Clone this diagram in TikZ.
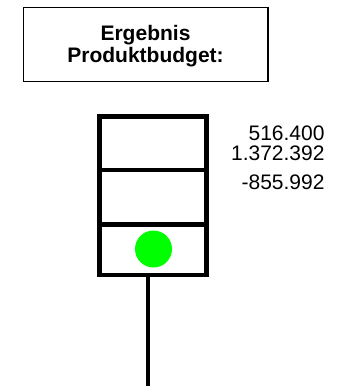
\documentclass[tikz,border=0pt]{standalone}
\usepackage{fontspec}
\setmainfont{Liberation Sans}

\tikzset{every picture/.style={line width=0.75pt}}
\tikzset{
  kasten/.style={line width=3.4pt},
  titeltext/.style={anchor=base, inner sep=0pt, font=\fontsize{15.75}{19}\selectfont\bfseries},
  zahltext/.style={anchor=base east, inner sep=0pt, font=\fontsize{15.75}{19}\selectfont}
}

\begin{document}
\begin{tikzpicture}[x=0.75pt,y=0.75pt,yscale=-1,xscale=1]
\useasboundingbox (0,0) rectangle (340,386);

%Shape: Rectangle [id:titelbox]
\draw [line width=1.1pt]  (23.5,7.5) rectangle (268,81.5) ;
% Text Node
\draw (145.5,40) node [titeltext] (ergebnis) {Ergebnis};
% Text Node
\draw (145.5,62.5) node [titeltext] (produktbudget) {Produktbudget:};

%Shape: Rectangle [id:ampel]
\draw [kasten]  (99.5,116.5) rectangle (206.5,275) ;
%Straight Lines [id:trenner1]
\draw [kasten]  (99.5,170) -- (206.5,170) ;
%Straight Lines [id:trenner2]
\draw [kasten]  (99.5,224.5) -- (206.5,224.5) ;
%Shape: Circle [id:lampe]
\draw [fill={rgb, 255:red, 0; green, 255; blue, 0 }, draw=none]  (153.5,249) circle (18.5) ;
%Straight Lines [id:stiel]
\coordinate (stieloben) at (148,275);
\coordinate (stielunten) at (148,386);
\draw [kasten]  (stieloben) -- (stielunten) ;

% Text Node
\draw (325,140) node [zahltext] (ist) {516.400};
% Text Node
\draw (325,160.7) node [zahltext] (plan) {1.372.392};
% Text Node
\draw (325,189) node [zahltext] (abweichung) {-855.992};

\end{tikzpicture}
\end{document}
